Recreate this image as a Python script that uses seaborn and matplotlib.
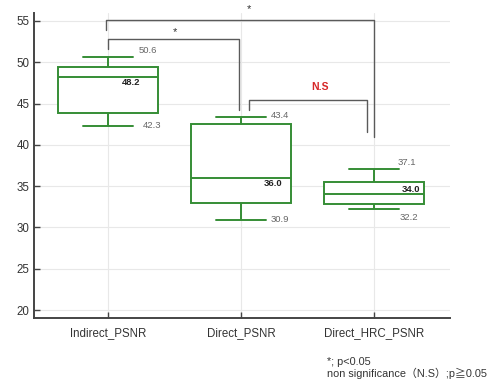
import numpy as np
import pandas as pd
import matplotlib
matplotlib.use("Agg")
import matplotlib.pyplot as plt
import seaborn as sns

# Werte aus dem Bild (min, Q1, Median, Q3, max)
groups = ["Indirect_PSNR", "Direct_PSNR", "Direct_HRC_PSNR"]
indirect_vals = [42.3, 43.9, 48.2, 49.4, 50.6]
direct_vals = [30.9, 32.9, 36.0, 42.5, 43.4]
hrc_vals = [32.2, 32.85, 34.0, 35.5, 37.1]
yticks = [20, 25, 30, 35, 40, 45, 50, 55]

sns.set_theme(style="white")
plt.rcParams["font.family"] = ["Liberation Sans", "Noto Sans CJK JP", "DejaVu Sans"]

df = pd.DataFrame({
    "group": np.repeat(groups, 5),
    "value": indirect_vals + direct_vals + hrc_vals,
})

green = "#358d35"
fig = plt.figure(figsize=(4.91, 3.83), dpi=100)
ax = fig.add_axes([0.069, 0.169, 0.847, 0.798])

sns.boxplot(data=df, x="group", y="value", order=groups, ax=ax,
            color="white", linecolor=green, linewidth=1.4, width=0.75,
            whis=1.5, showfliers=False)

ax.set_xlim(-0.56, 2.57)
ax.set_ylim(19.0, 56.0)
ax.set_yticks(yticks)
ax.set_xlabel("")
ax.set_ylabel("")
ax.grid(True, color="#e8e8e8", linewidth=0.8)
ax.set_axisbelow(True)
for s in ["top", "right"]:
    ax.spines[s].set_visible(False)
for s in ["left", "bottom"]:
    ax.spines[s].set_color("#444444")
    ax.spines[s].set_linewidth(1.4)
ax.tick_params(direction="in", length=4, width=1.0, color="#444444",
               labelsize=8.3, labelcolor="#333333", left=True, bottom=True)
ax.tick_params(axis="x", pad=6)
ax.tick_params(axis="y", pad=3)

# Beschriftungen: max, min, median
all_vals = [indirect_vals, direct_vals, hrc_vals]
max_dx = [0.225, 0.225, 0.18]
max_dy = [0.8, 0.1, 0.8]
min_dx = [0.26, 0.22, 0.19]
min_dy = [0.0, 0.0, -1.0]
med_dx = [0.24, 0.31, 0.35]
med_dy = [-0.7, -0.7, 0.55]
for i, v in enumerate(all_vals):
    ax.text(i + max_dx[i], v[4] + max_dy[i], f"{v[4]:.1f}", ha="left", va="center",
            fontsize=6.8, color="#666666")
    ax.text(i + min_dx[i], v[0] + min_dy[i], f"{v[0]:.1f}", ha="left", va="center",
            fontsize=6.8, color="#666666")
    ax.text(i + med_dx[i], v[2] + med_dy[i], f"{v[2]:.1f}", ha="right", va="center",
            fontsize=6.8, color="#222222", fontweight="bold")

# Signifikanz-Klammern
bc = "#5a5a5a"
ax.plot([0.0, 0.0, 0.985, 0.985], [51.6, 52.8, 52.8, 44.2], color=bc, lw=1.0, clip_on=False)
ax.plot([-0.02, -0.02, 2.0, 2.0], [53.9, 55.05, 55.05, 41.0], color=bc, lw=1.0, clip_on=False)
ax.plot([1.06, 1.06, 1.95, 1.95], [44.2, 45.4, 45.4, 41.55], color=bc, lw=1.0, clip_on=False)
ax.text(0.5, 53.6, "*", ha="center", va="center", fontsize=8, color="#333333", clip_on=False)
ax.text(1.06, 56.4, "*", ha="center", va="center", fontsize=8, color="#333333", clip_on=False)
ax.text(1.59, 47.0, "N.S", ha="center", va="center", fontsize=7.5, color="#d62728",
        fontweight="bold")

fig.text(0.666, 0.055, "*; p<0.05", fontsize=7.8, color="#333333", va="center")
fig.text(0.666, 0.026, "non significance（N.S）;p≧0.05", fontsize=7.8, color="#333333",
         va="center")

plt.savefig("out.png", dpi=100)
